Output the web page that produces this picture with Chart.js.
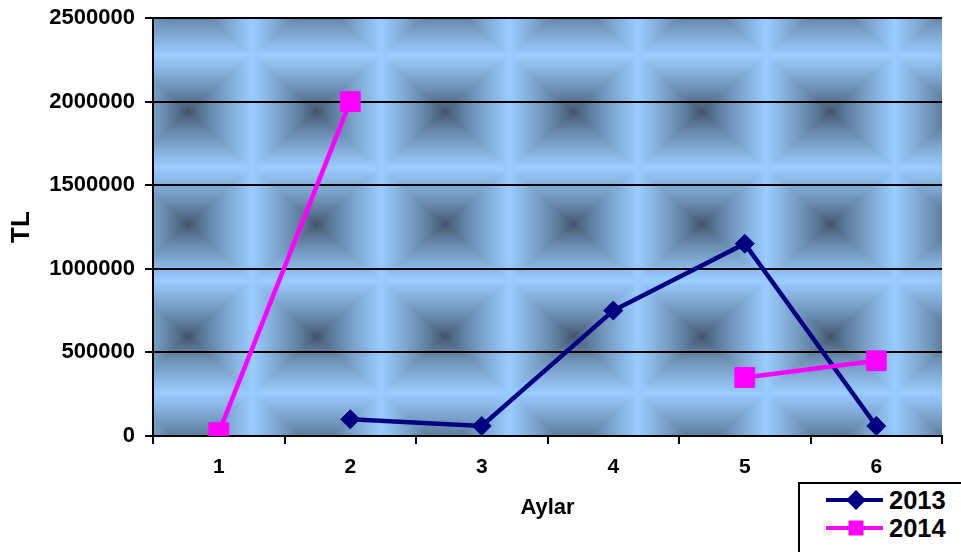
<!DOCTYPE html>
<html>
<head>
<meta charset="utf-8">
<script src="https://cdn.jsdelivr.net/npm/chart.js@4.4.1/dist/chart.umd.min.js"></script>
<style>
  body { margin: 0; background: #fff; }
  #wrap { position: relative; width: 961px; height: 552px; overflow: hidden; }
  #legend {
    position: absolute; left: 798px; top: 482px; width: 180px; height: 90px;
    border: 2px solid #000; background: #fff;
    font: bold 25.5px "Liberation Sans", Arial, sans-serif; color: #000;
  }
  .row { position: absolute; left: 0; height: 28px; width: 170px; }
  .row svg { position: absolute; left: 26px; top: 0; }
  .row span { position: absolute; left: 89px; top: 0; line-height: 28px; }
</style>
</head>
<body>
<div id="wrap">
  <canvas id="chart" width="961" height="552"></canvas>
  <div id="legend"></div>
</div>
<script>
// DATA
let months = ["1", "2", "3", "4", "5", "6"];
let seriesNames = ["2013", "2014"];
let values2013 = [null, 100000, 60000, 750000, 1150000, 60000];
let values2014 = [20000, 2000000, null, null, 350000, 450000];
let yTicks = [0, 500000, 1000000, 1500000, 2000000, 2500000];

// STYLE
let font = "'Liberation Sans', Arial, sans-serif";
let navy = "#000080";
let pink = "#FF00FF";

// BACKGROUND (tiled "from center" gradient behind the plot)
let bgCache = null;
let bgPlugin = {
  id: "bgPattern",
  beforeDraw(chart) {
    let ctx = chart.ctx;
    let a = chart.chartArea;
    let left = Math.round(a.left), top = Math.round(a.top);
    let w = Math.round(a.right) - left, h = Math.round(a.bottom) - top;
    if (!bgCache || bgCache.width !== w || bgCache.height !== h) {
      let img = ctx.createImageData(w, h);
      let tw = 128.5, th = 112.5;
      let cx0 = left + 35, cy0 = top + 93.7;
      let light = [153, 204, 255], dark = [62, 80, 102];
      for (let j = 0; j < h; j++) {
        let v = (top + j + 0.5 - cy0) / th;
        v -= Math.round(v);
        for (let i = 0; i < w; i++) {
          let u = (left + i + 0.5 - cx0) / tw;
          u -= Math.round(u);
          let t = Math.max(Math.abs(u), Math.abs(v)) * 2;
          let f = Math.pow(Math.min(1, t), 0.75);
          let k = (j * w + i) * 4;
          img.data[k] = dark[0] + (light[0] - dark[0]) * f;
          img.data[k + 1] = dark[1] + (light[1] - dark[1]) * f;
          img.data[k + 2] = dark[2] + (light[2] - dark[2]) * f;
          img.data[k + 3] = 255;
        }
      }
      bgCache = img;
    }
    ctx.putImageData(bgCache, left, top);
  }
};

// CHART
let chart = new Chart(document.getElementById("chart"), {
  type: "line",
  data: {
    labels: months,
    datasets: [
      {
        label: seriesNames[0],
        data: values2013,
        borderColor: navy,
        backgroundColor: navy,
        borderWidth: 4.5,
        pointStyle: "rectRot",
        pointRadius: 9.5,
        pointBorderWidth: 1,
        pointBorderColor: navy,
        pointBackgroundColor: navy,
        tension: 0,
        order: 1
      },
      {
        label: seriesNames[1],
        data: values2014,
        borderColor: pink,
        backgroundColor: pink,
        borderWidth: 4.5,
        pointStyle: "rect",
        pointRadius: 14,
        pointBorderWidth: 1,
        pointBorderColor: pink,
        pointBackgroundColor: pink,
        tension: 0,
        order: 0
      }
    ]
  },
  options: {
    responsive: false,
    animation: false,
    layout: { padding: { top: 18, right: 19, bottom: 0, left: 0 } },
    plugins: {
      legend: { display: false },
      tooltip: { enabled: false }
    },
    scales: {
      x: {
        offset: true,
        grid: { offset: true, drawOnChartArea: false, drawTicks: true, tickLength: 8, color: "#000", lineWidth: 2 },
        border: { display: true, color: "#000", width: 2 },
        ticks: { color: "#000", font: { family: font, size: 21, weight: "bold" }, padding: 11, maxRotation: 0 },
        title: {
          display: true, text: "Aylar", color: "#000",
          font: { family: font, size: 22, weight: "bold" },
          padding: { top: 0, bottom: 31 }
        },
        afterFit: s => { s.height = 116; s.paddingLeft = 0; s.paddingRight = 0; }
      },
      y: {
        min: 0,
        max: 2500000,
        afterBuildTicks: s => { s.ticks = yTicks.map(v => ({ value: v })); },
        grid: { color: "#000", lineWidth: 2, tickLength: 8, drawTicks: true },
        border: { display: true, color: "#000", width: 2 },
        ticks: { color: "#000", font: { family: font, size: 22, weight: "bold" }, padding: 10, callback: v => String(v) },
        title: {
          display: true, text: "TL", color: "#000",
          font: { family: font, size: 26, weight: "bold" },
          padding: { top: 6, bottom: 0 }
        },
        afterFit: s => { s.width = 153; s.paddingTop = 0; s.paddingBottom = 0; }
      }
    }
  },
  plugins: [bgPlugin]
});

// LEGEND
function buildLegend() {
  let box = document.getElementById("legend");
  box.innerHTML = "";
  chart.data.datasets.forEach((ds, i) => {
    let marker = ds.pointStyle === "rectRot"
      ? `<polygon points="30,4 40,14 30,24 20,14" fill="${ds.borderColor}"/>`
      : `<rect x="22.5" y="6.5" width="15" height="15" fill="${ds.borderColor}"/>`;
    box.innerHTML += `
      <div class="row" style="top:${2 + i * 28}px">
        <svg width="57" height="28"><line x1="0" y1="14" x2="57" y2="14" stroke="${ds.borderColor}" stroke-width="4"/>${marker}</svg>
        <span>${ds.label}</span>
      </div>`;
  });
}
buildLegend();
</script>
</body>
</html>
